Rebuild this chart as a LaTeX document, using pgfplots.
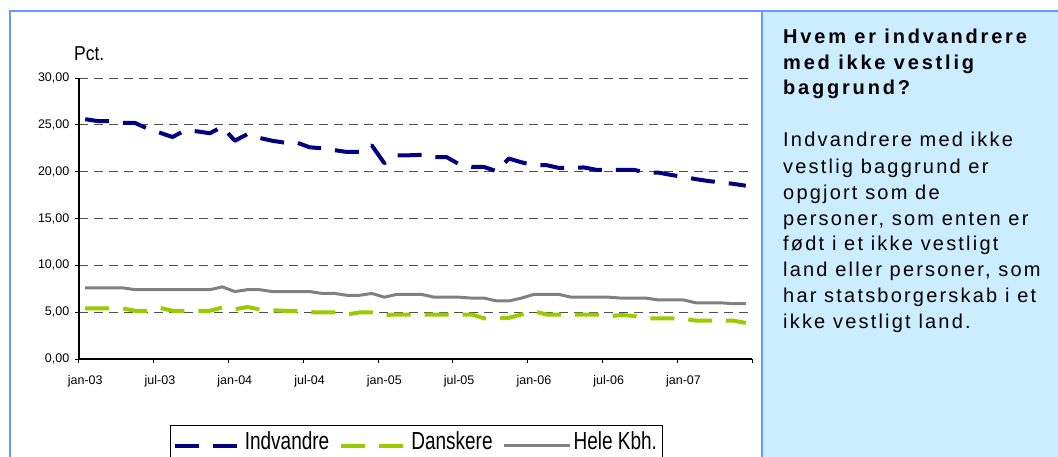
\documentclass[border=0pt]{standalone}
\usepackage{fontspec}
\setmainfont{Liberation Sans}
\newfontfamily\panelfont[LetterSpace=11]{Liberation Sans}
\newfontfamily\paneltitlefont[LetterSpace=14]{Liberation Sans}
\usepackage{graphicx}
\usepackage{pgfplots}
\usepackage{pgfplotstable}
\pgfplotsset{compat=1.18}
\definecolor{navyline}{RGB}{0,0,128}
\definecolor{greenline}{RGB}{153,204,0}
\definecolor{grayline}{RGB}{128,128,128}
\definecolor{frameblue}{RGB}{102,153,255}
\definecolor{panelblue}{RGB}{204,236,255}
\definecolor{gridgray}{RGB}{80,80,80}

\pgfplotstableread{
m ind dan hele
0 25.6 5.4 7.6
1 25.4 5.4 7.6
2 25.4 5.4 7.6
3 25.2 5.4 7.6
4 25.2 5.15 7.4
5 24.6 5.15 7.4
6 24.15 5.45 7.4
7 23.7 5.15 7.4
8 24.4 5.15 7.4
9 24.3 5.15 7.4
10 24.1 5.15 7.4
11 24.8 5.5 7.7
12 23.3 5.3 7.2
13 24.0 5.55 7.4
14 23.6 5.3 7.4
15 23.3 5.2 7.2
16 23.1 5.15 7.2
17 23.1 5.15 7.2
18 22.6 5.0 7.2
19 22.5 4.97 7.0
20 22.3 4.97 7.0
21 22.1 4.75 6.8
22 22.1 4.97 6.8
23 22.8 4.97 7.0
24 20.9 4.7 6.6
25 21.75 4.75 6.9
26 21.75 4.75 6.9
27 21.8 4.75 6.9
28 21.55 4.75 6.6
29 21.55 4.75 6.6
30 20.8 4.75 6.6
31 20.5 4.75 6.5
32 20.5 4.35 6.5
33 20.05 4.35 6.2
34 21.4 4.4 6.2
35 21.0 4.75 6.5
36 20.7 5.1 6.9
37 20.7 4.75 6.9
38 20.4 4.75 6.9
39 20.4 4.75 6.6
40 20.45 4.75 6.6
41 20.2 4.75 6.6
42 20.2 4.55 6.6
43 20.2 4.7 6.5
44 20.2 4.6 6.5
45 19.9 4.35 6.5
46 19.9 4.35 6.3
47 19.65 4.35 6.3
48 19.45 4.3 6.3
49 19.2 4.1 6.0
50 19.0 4.1 6.0
51 18.85 4.1 6.0
52 18.7 4.1 5.9
53 18.5 3.85 5.9
}\datatable

\newcommand{\tallleg}[1]{\scalebox{1}[1.3]{#1}}

\begin{document}
\begin{tikzpicture}[x=1pt,y=1pt]
\useasboundingbox (0,0) rectangle (1058,456);
\fill[panelblue] (762,-10) rectangle (1070,445);
\draw[frameblue, line width=2pt] (10,-10) -- (10,445) -- (1070,445);
\draw[frameblue, line width=2pt] (762,-10) -- (762,445);

\node[anchor=base west, font=\fontsize{17.5}{20}\selectfont, inner sep=0pt] at (74,395) {\scalebox{1}[1.15]{Pct.}};

\begin{axis}[
  at={(79pt,97pt)}, anchor=south west,
  scale only axis, width=673pt, height=281pt,
  xmin=-0.5, xmax=53.5, ymin=0, ymax=30,
  axis x line=bottom, axis y line=left,
  axis line style={-, black, line width=1.1pt},
  tick align=outside, major tick length=4pt,
  tick style={black, line width=1pt},
  ytick={0,5,10,15,20,25,30},
  yticklabels={{0,00},{5,00},{10,00},{15,00},{20,00},{25,00},{30,00}},
  yticklabel style={font=\fontsize{12.5}{14}\selectfont, inner xsep=1pt, xshift=-4.5pt},
  xtick={-0.5,5.5,11.5,17.5,23.5,29.5,35.5,41.5,47.5,53.5},
  xticklabels={},
  extra x ticks={0,6,12,18,24,30,36,42,48},
  extra x tick labels={jan-03,jul-03,jan-04,jul-04,jan-05,jul-05,jan-06,jul-06,jan-07},
  extra x tick style={major tick length=0pt, xticklabel style={font=\fontsize{12.5}{14}\selectfont, yshift=-13pt}},
  ymajorgrids,
  grid style={gridgray, line width=1pt, dash pattern=on 9pt off 6pt},
  legend columns=3,
  legend style={at={(0.1346,-0.2335)}, anchor=north west, draw=black,
    font=\fontsize{19}{21}\selectfont, inner xsep=3pt, inner ysep=5pt,
    /tikz/every even column/.append style={column sep=8pt}},
  legend image code/.code={\draw[#1] (0pt,-4pt) -- (66pt,-4pt);},
]
\addplot[navyline, line width=4pt, dash pattern=on 24pt off 14pt, line join=round] table[x=m,y=ind] {\datatable};
\addlegendentry{\tallleg{Indvandre}}
\addplot[greenline, line width=4pt, dash pattern=on 24pt off 14pt, line join=round] table[x=m,y=dan] {\datatable};
\addlegendentry{\tallleg{Danskere}}
\addplot[grayline, line width=3pt, line join=round] table[x=m,y=hele] {\datatable};
\addlegendentry{\tallleg{Hele Kbh.}}
\end{axis}

\begin{scope}[every node/.style={anchor=base west, inner sep=0pt}]
\node[font=\paneltitlefont\bfseries\fontsize{20}{24}\selectfont] at (783,412.7) {Hvem er indvandrere};
\node[font=\paneltitlefont\bfseries\fontsize{20}{24}\selectfont] at (783,386) {med ikke vestlig};
\node[font=\paneltitlefont\bfseries\fontsize{20}{24}\selectfont] at (783,361) {baggrund?};
\node[font=\panelfont\fontsize{20}{24}\selectfont] at (783,309.3) {Indvandrere med ikke};
\node[font=\panelfont\fontsize{20}{24}\selectfont] at (783,282.7) {vestlig baggrund er};
\node[font=\panelfont\fontsize{20}{24}\selectfont] at (783,256.7) {opgjort som de};
\node[font=\panelfont\fontsize{20}{24}\selectfont] at (783,230.7) {personer, som enten er};
\node[font=\panelfont\fontsize{20}{24}\selectfont] at (783,205.3) {født i et ikke vestligt};
\node[font=\panelfont\fontsize{20}{24}\selectfont] at (783,179.3) {land eller personer, som};
\node[font=\panelfont\fontsize{20}{24}\selectfont] at (783,153.3) {har statsborgerskab i et};
\node[font=\panelfont\fontsize{20}{24}\selectfont] at (783,127.7) {ikke vestligt land.};
\end{scope}
\end{tikzpicture}
\end{document}
